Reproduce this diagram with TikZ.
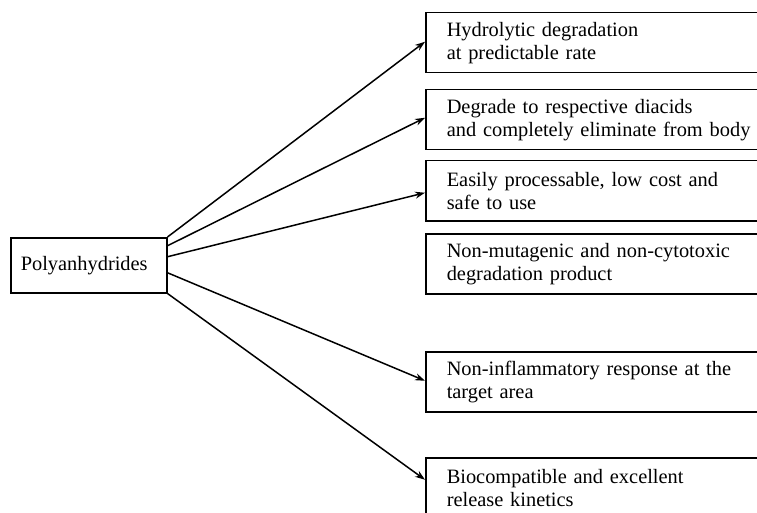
\documentclass[tikz,border=0pt]{standalone}
\usepackage{fontspec}
\setmainfont{Liberation Serif}
\usetikzlibrary{arrows.meta}
\begin{document}
\begin{tikzpicture}[x=1pt,y=-1pt,
  every node/.style={font=\fontsize{20.4}{23}\selectfont},
  box/.style={draw,line width=1.5pt,anchor=north west,minimum height=60pt,
    text width=330pt,inner xsep=21pt,inner ysep=0pt,align=left},
  srcbox/.style={draw,line width=1.5pt,anchor=north west,minimum height=55pt,
    text width=136pt,inner xsep=10pt,inner ysep=0pt,align=left},
  link/.style={line width=1.5pt,-{Stealth[length=10pt,width=7pt]}}]
\useasboundingbox (0,0) rectangle (757,513);
\clip (0,0) rectangle (757,513);

\node[srcbox] (p) at (10,237) {Polyanhydrides};

\node[box] (b1) at (425,12)  {Hydrolytic degradation\\at predictable rate};
\node[box] (b2) at (425,89)  {Degrade to respective diacids\\and completely eliminate from body};
\node[box] (b3) at (425,160) {Easily processable, low cost and\\safe to use};
\node[box] (b4) at (425,233) {Non-mutagenic and non-cytotoxic\\degradation product};
\node[box] (b5) at (425,351) {Non-inflammatory response at the\\target area};
\node[box] (b6) at (425,457) {Biocompatible and excellent\\release kinetics};

\draw[link] (p.north east) -- ([yshift=1pt]b1.west);
\draw[link] ([yshift=19.5pt]p.east) -- ([yshift=2pt]b2.west);
\draw[link] ([yshift=8.5pt]p.east) -- ([yshift=-2pt]b3.west);
\draw[link] ([yshift=-7.5pt]p.east) -- ([yshift=1pt]b5.west);
\draw[link] (p.south east) -- ([yshift=8pt]b6.west);
\end{tikzpicture}
\end{document}
